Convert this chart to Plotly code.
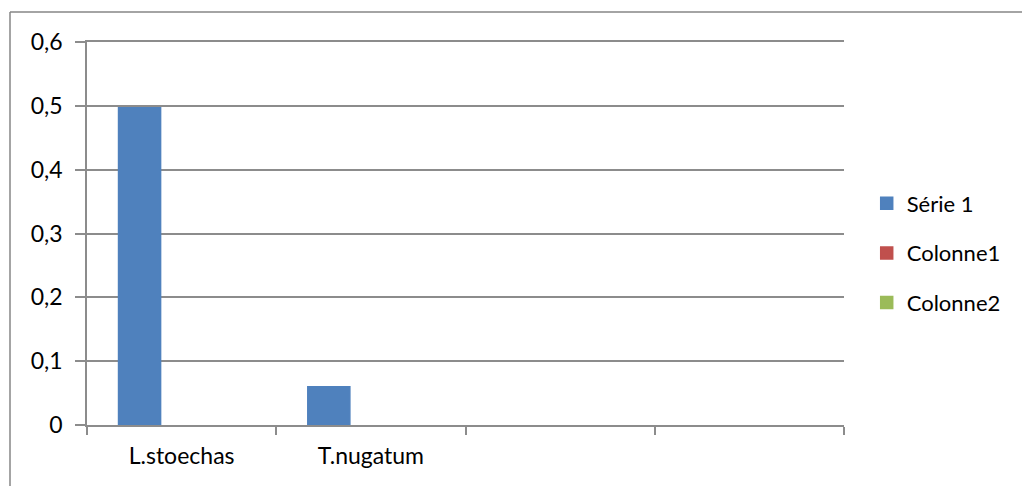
import plotly.graph_objects as go

# Categories along the x axis (the last two are unnamed slots)
categories = ["L.stoechas", "T.nugatum", " ", "  "]

# Series values
serie1 = [0.497, 0.06, None, None]
colonne1 = [None, None, None, None]
colonne2 = [None, None, None, None]

y_ticks = [0, 0.1, 0.2, 0.3, 0.4, 0.5, 0.6]

W, H = 1022, 486
L, R, T, B = 87, 178, 42, 61
pw, ph = W - L - R, H - T - B

font = dict(family="Lato, 'Liberation Sans', sans-serif", size=23, color="#000000")
grid = "#8c8c8c"

fig = go.Figure()
for name, vals, color in [("Série 1", serie1, "#4F81BD"),
                          ("Colonne1", colonne1, "#C0504D"),
                          ("Colonne2", colonne2, "#9BBB59")]:
    fig.add_trace(go.Bar(x=categories, y=vals, name=name, legendgroup=name,
                         marker=dict(color=color, line=dict(width=1.5, color=color))))

# Outer chart frame: only its top and left edges fall within the page
frame = dict(color="#868686", width=1.5)
x_left = (10 - L) / pw
y_top = (T + ph - 12) / ph
fig.add_shape(type="line", xref="paper", yref="paper",
              x0=x_left, x1=(W + 20 - L) / pw, y0=y_top, y1=y_top, line=frame)
fig.add_shape(type="line", xref="paper", yref="paper",
              x0=x_left, x1=x_left, y0=y_top, y1=-(B + 20) / ph, line=frame)

fig.update_layout(
    width=W, height=H,
    margin=dict(l=L, r=R, t=T, b=B, pad=0),
    paper_bgcolor="white", plot_bgcolor="white",
    barmode="group", bargap=1/3, bargroupgap=0,
    separators=", ",
    font=font,
    showlegend=True,
    legend=dict(x=1.03, y=(T + ph - 253) / ph, yanchor="middle", xanchor="left",
                font=dict(family=font["family"], size=22, color="#000"),
                tracegroupgap=18, traceorder="grouped",
                bgcolor="rgba(0,0,0,0)"),
    xaxis=dict(type="category", categoryorder="array", categoryarray=categories,
               showgrid=False, showline=True, mirror=True, linecolor=grid, linewidth=1.5,
               ticks="outside", tickson="boundaries", ticklen=8, tickwidth=1.5,
               tickcolor=grid, tickfont=font, range=[-0.5, 3.5],
               ticklabelstandoff=10),
    yaxis=dict(range=[0, 0.6], tickvals=y_ticks, showgrid=True, gridcolor=grid,
               gridwidth=1.5, showline=True, linecolor=grid, linewidth=1.5,
               ticks="outside", ticklen=10, tickwidth=1.5, tickcolor=grid,
               tickfont=font, zeroline=False, ticklabelstandoff=8),
)

fig.write_html("out.html")
